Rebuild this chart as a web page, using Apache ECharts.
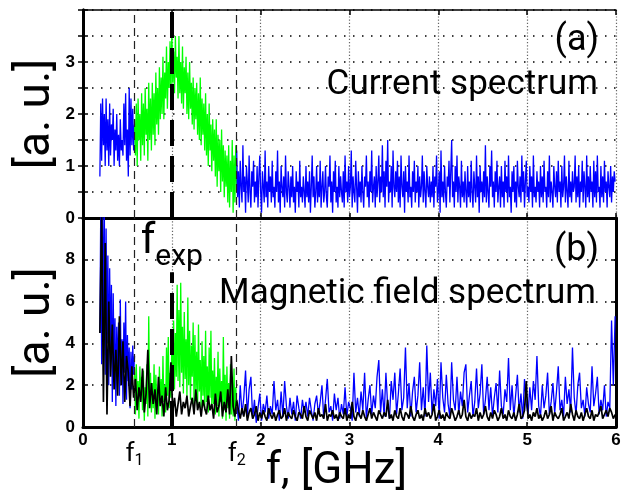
<!DOCTYPE html>
<html>
<head>
<meta charset="utf-8">
<script src="https://cdn.jsdelivr.net/npm/echarts@6/dist/echarts.min.js"></script>
<style>
  html, body { margin: 0; padding: 0; background: #fff; }
  #chart { width: 631px; height: 497px; }
</style>
</head>
<body>
<div id="chart"></div>
<script>
// marker frequencies, GHz
const f1 = 0.58
const fExp = 1.0
const f2 = 1.73

// (a) current spectrum
// blue below f1: 0.19 .. 0.58, step 0.01
const curBlueLow = [0.8, 2.2, 1.1, 2.3, 1.4, 2.0, 1.0, 2.3, 1.3, 1.9, 1.0, 2.2, 1.2, 1.8, 1.5, 2.1, 1.0, 1.7, 1.3, 2.0,
  1.1, 1.6, 1.0, 1.9, 1.3, 1.5, 1.2, 2.2, 1.4, 2.4, 1.1, 1.7, 0.8, 2.5, 1.2, 2.3, 1.4, 2.1, 1.3, 1.8]
// green between f1 and f2: 0.58 .. 1.73, step 0.01
const curGreen = [1.9, 1.2, 2.2, 1.0, 2.3, 1.5, 2.0, 1.1, 2.4, 1.4,
  2.2, 1.2, 2.5, 1.6, 2.1, 1.1, 2.6, 1.5, 2.3, 1.3,
  2.6, 1.6, 2.4, 1.4, 2.8, 1.8, 2.5, 1.6, 2.9, 1.9,
  2.7, 2.0, 3.1, 1.9, 2.8, 2.3, 3.3, 2.1, 3.0, 2.5,
  3.4, 2.3, 3.6, 2.6, 3.2, 2.4, 3.5, 2.7, 3.1, 2.3,
  3.5, 2.4, 3.0, 2.2, 3.3, 2.1, 2.9, 2.4, 3.1, 2.0,
  2.8, 1.9, 3.0, 2.1, 2.6, 1.8, 2.7, 1.7, 2.5, 1.9,
  2.6, 1.6, 2.4, 1.5, 2.7, 1.4, 2.3, 1.6, 2.2, 1.3,
  2.4, 1.2, 2.0, 1.0, 2.2, 1.3, 1.8, 0.9, 1.9, 1.1,
  1.7, 0.8, 1.9, 0.6, 1.6, 0.9, 1.5, 0.5, 1.7, 0.7,
  1.4, 0.4, 1.3, 0.6, 1.2, 0.3, 1.4, 0.2, 1.1, 0.5,
  1.5, 0.1, 1.2, 0.3, 1.4, 0.6]
// blue above f2: 1.73 .. 5.99, step 0.01
const curBlueHigh = [
  1.3, 0.4, 0.9, 0.2, 1.1, 0.6, 0.3, 1.4, 0.5, 0.8, 0.1, 1.0, 0.7, 0.3, 1.2, 0.5, 0.2, 0.9, 0.6, 1.1,
  0.3, 0.7, 0.4, 1.0, 0.2, 0.8, 1.2, 0.5, 0.1, 0.9, 0.6, 0.3, 1.3, 0.4, 0.7, 0.2, 1.0, 0.5, 0.8, 0.3,
  1.1, 0.4, 0.6, 0.2, 0.9, 0.5, 1.3, 0.3, 0.7, 0.1, 1.0, 0.6, 0.4, 0.8, 0.2, 1.2, 0.5, 0.3, 0.9, 0.6,
  0.2, 0.8, 0.4, 1.0, 0.3, 0.6, 0.1, 0.9, 0.5, 0.7, 0.2, 1.1, 0.4, 0.6, 0.3, 0.8, 0.5, 0.2, 1.0, 0.4,
  0.7, 0.3, 0.9, 0.1, 0.6, 1.2, 0.4, 0.8, 0.2, 0.5, 1.0, 0.3, 0.7, 0.4, 1.1, 0.2, 0.6, 0.9, 0.3, 0.5,
  1.0, 0.4, 0.2, 0.8, 0.6, 1.2, 0.3, 0.7, 0.1, 0.9, 0.5, 1.1, 0.3, 0.6, 0.2, 1.0, 0.4, 0.8, 0.5, 0.3,
  0.9, 0.2, 1.2, 0.5, 0.7, 0.3, 1.0, 0.4, 0.6, 1.3, 0.2, 0.8, 0.5, 0.3, 1.1, 0.6, 0.1, 0.9, 0.4, 0.7,
  0.3, 1.0, 0.5, 0.2, 0.8, 0.6, 1.2, 0.4, 0.7, 0.2, 0.9, 0.5, 1.3, 0.3, 0.6, 0.8, 0.2, 1.0, 0.4, 0.7,
  1.2, 0.3, 0.8, 0.5, 1.4, 0.4, 0.9, 0.2, 1.1, 0.6, 1.5, 0.3, 0.7, 0.5, 1.0, 0.2, 1.3, 0.6, 0.4, 0.9,
  0.5, 1.1, 0.3, 0.8, 0.2, 1.2, 0.6, 0.4, 0.9, 0.1, 1.0, 0.5, 0.7, 0.3, 1.2, 0.4, 0.6, 0.2, 0.9, 0.5,
  1.1, 0.3, 0.7, 0.5, 1.0, 0.2, 0.8, 0.4, 0.6, 1.2, 0.3, 0.9, 0.5, 0.2, 1.0, 0.6, 0.4, 0.8, 0.3, 0.7,
  0.4, 1.0, 0.2, 0.8, 0.6, 1.2, 0.3, 0.5, 0.9, 0.1, 1.3, 0.4, 0.7, 0.3, 1.0, 0.5, 0.2, 0.8, 0.6, 1.1,
  0.3, 0.9, 1.5, 0.4, 0.7, 0.2, 1.0, 0.5, 1.2, 0.3, 0.8, 0.6, 0.2, 1.1, 0.4, 0.7, 0.3, 0.9, 0.5, 0.2,
  1.0, 0.4, 0.7, 0.3, 1.1, 0.5, 0.2, 0.9, 0.6, 0.3, 1.2, 0.4, 0.8, 0.1, 1.0, 0.5, 0.7, 0.3, 0.9, 0.4,
  1.4, 0.3, 0.8, 0.5, 0.2, 1.0, 0.6, 1.3, 0.4, 0.7, 0.2, 0.9, 0.5, 1.1, 0.3, 0.6, 0.8, 0.2, 1.0, 0.4,
  0.7, 0.2, 1.1, 0.5, 0.8, 0.3, 1.2, 0.4, 0.6, 0.1, 0.9, 0.5, 1.0, 0.3, 0.7, 0.2, 1.1, 0.6, 0.4, 0.8,
  0.3, 1.2, 0.5, 0.9, 0.2, 0.7, 1.1, 0.4, 0.6, 0.3, 1.0, 0.5, 0.8, 0.2, 1.2, 0.4, 0.6, 0.3, 0.9, 0.5,
  0.7, 0.2, 1.0, 0.4, 0.8, 0.3, 1.1, 0.5, 0.6, 0.2, 0.9, 0.4, 1.2, 0.3, 0.7, 0.5, 0.2, 1.0, 0.6, 0.4,
  0.9, 0.3, 1.1, 0.5, 0.7, 0.2, 1.0, 0.4, 0.6, 1.2, 0.3, 0.8, 0.5, 0.2, 1.1, 0.4, 0.7, 0.3, 0.9, 0.5,
  0.6, 1.2, 0.3, 0.8, 0.4, 1.0, 0.2, 0.7, 0.5, 1.1, 0.3, 0.9, 0.6, 0.2, 1.2, 0.4, 0.8, 0.3, 1.0, 0.5,
  0.7, 0.2, 1.1, 0.4, 0.9, 0.3, 1.2, 0.5, 0.6, 0.2, 1.0, 0.4, 0.8, 0.3, 1.1, 0.5, 0.7, 0.2, 0.9, 0.6,
  0.4, 1.0, 0.3, 0.8, 0.5, 0.9, 0.7]

// (b) magnetic field spectrum
// blue below f1: 0.19 .. 0.58, step 0.01
const magBlueLow = [4.5, 10.5, 3.0, 10.5, 5.0, 10.5, 2.5, 9.5, 4.0, 8.2,
  2.0, 7.6, 3.5, 6.8, 1.2, 6.4, 2.8, 5.2, 1.0, 4.8,
  2.4, 5.0, 1.5, 6.1, 2.0, 4.2, 1.1, 5.0, 2.6, 6.0,
  1.3, 4.4, 2.2, 3.8, 0.9, 3.6, 1.8, 3.9, 2.5, 3.4]
// green between f1 and f2: 0.58 .. 1.73, step 0.01
const magGreen = [2.8, 0.6, 3.0, 1.2, 2.2, 0.4, 2.9, 1.5, 2.4, 0.8,
  2.7, 0.3, 1.9, 1.1, 3.0, 0.5, 5.3, 1.4, 2.6, 0.7,
  2.1, 0.9, 3.0, 0.4, 2.5, 1.3, 1.8, 0.6, 2.9, 1.0,
  2.3, 0.5, 3.4, 1.2, 2.0, 0.7, 3.8, 1.5, 4.3, 0.9,
  2.6, 1.4, 3.9, 2.0, 5.1, 1.8, 4.5, 2.4, 6.8, 2.2,
  5.6, 1.9, 6.9, 2.6, 4.8, 1.6, 5.5, 2.3, 4.2, 1.5,
  6.2, 2.0, 4.6, 1.3, 3.9, 2.4, 5.0, 1.1, 4.4, 1.8,
  3.6, 1.0, 4.9, 1.7, 3.2, 0.9, 4.1, 1.5, 3.4, 0.8,
  4.6, 1.2, 2.9, 0.7, 3.8, 1.4, 4.6, 0.9, 2.7, 1.1,
  3.3, 0.6, 2.4, 1.0, 3.6, 0.5, 2.8, 1.2, 2.2, 0.4,
  4.3, 0.8, 2.5, 0.3, 2.9, 0.9, 2.1, 0.4, 3.0, 0.6,
  2.4, 0.5, 2.8, 0.3, 1.9, 0.7]
// blue above f2: 1.73 .. 5.99, step 0.02
const magBlueHigh = [1.2, 0.3, 2.0, 0.6, 1.4, 2.7, 0.5, 1.8, 2.4, 0.4,
  1.3, 0.2, 0.9, 1.6, 0.3, 1.1, 0.7, 1.5, 0.4, 1.0,
  0.6, 2.2, 0.8, 1.3, 0.3, 1.7, 0.5, 2.2, 1.0, 0.4,
  1.4, 0.6, 1.2, 0.3, 1.5, 0.9, 0.4, 1.3, 0.7, 1.2,
  0.5, 1.4, 0.8, 0.3, 1.1, 1.5, 0.6, 1.2, 2.0, 0.4,
  1.3, 2.3, 0.7, 1.0, 0.3, 1.6, 0.8, 1.4, 0.4, 1.1,
  0.6, 1.9, 0.5, 1.2, 0.9, 0.3, 2.6, 0.7, 1.4, 0.5,
  1.7, 0.8, 2.6, 0.4, 1.3, 2.0, 0.6, 1.5, 0.9, 2.4,
  3.2, 0.7, 1.8, 0.5, 2.6, 1.0, 0.4, 2.2, 1.3, 2.6,
  0.6, 1.6, 2.8, 0.8, 1.4, 3.8, 0.9, 2.1, 0.5, 1.7,
  2.4, 0.7, 1.5, 3.1, 0.8, 1.9, 0.5, 3.9, 1.2, 2.6,
  0.6, 1.8, 1.0, 2.3, 0.4, 3.1, 1.4, 0.7, 2.5, 1.1,
  0.5, 3.1, 1.3, 0.8, 2.4, 0.6, 1.7, 1.0, 2.6, 3.0,
  0.7, 1.5, 2.2, 0.5, 1.2, 2.8, 0.9, 1.6, 3.0, 0.6,
  1.3, 2.4, 0.8, 1.9, 0.5, 1.4, 2.1, 0.7, 2.7, 1.0,
  0.6, 1.8, 1.2, 3.3, 0.8, 2.0, 0.5, 1.5, 2.5, 0.7,
  1.6, 0.4, 2.3, 1.1, 0.6, 1.9, 0.8, 2.2, 1.3, 3.4,
  1.0, 0.5, 2.0, 0.9, 1.5, 2.6, 0.6, 1.2, 2.1, 0.7,
  1.7, 2.9, 0.8, 1.3, 0.5, 2.4, 1.1, 1.8, 0.7, 3.8,
  1.4, 0.6, 2.0, 2.6, 0.9, 1.3, 0.5, 1.9, 1.1, 0.7,
  2.9, 1.0, 1.6, 2.4, 0.6, 1.3, 0.8, 2.0, 0.5, 1.2,
  0.9, 5.1, 2.0, 5.3]
// black, whole range: 0.19 .. 5.99, step 0.02
const magBlack = [4.5, 10.5, 1.2, 8.8, 0.6, 6.0, 2.4, 4.9, 1.8, 3.7,
  1.5, 5.3, 2.0, 4.1, 1.2, 3.4, 2.6, 1.0, 2.9, 1.4,
  2.3, 0.8, 1.9, 1.2, 2.8, 0.7, 1.6, 3.7, 0.9, 2.1,
  1.1, 1.8, 0.6, 2.4, 1.0, 1.5, 0.5, 1.9, 0.8, 1.3,
  3.1, 0.7, 1.4, 0.5, 1.1, 1.7, 0.6, 1.2, 0.9, 1.5,
  0.5, 1.0, 1.4, 0.6, 1.8, 0.8, 1.2, 0.5, 1.3, 0.9,
  0.6, 1.5, 0.8, 1.1, 0.4, 1.6, 0.7, 1.0, 1.7, 0.5,
  1.2, 0.7, 1.8, 0.6, 3.4, 1.0, 0.5, 1.3, 0.8, 0.4,
  0.9, 0.5, 1.1, 0.3, 0.7, 0.9, 0.4, 0.6, 1.0, 0.3,
  0.7, 0.4, 0.8, 0.5, 0.3, 0.9, 0.6, 0.4, 0.7, 0.3,
  0.6, 0.8, 0.4, 0.5, 0.9, 0.3, 0.7, 0.5, 0.4, 0.8,
  0.5, 0.3, 0.7, 0.6, 0.4, 1.0, 0.5, 0.3, 0.8, 0.6,
  0.4, 0.7, 0.3, 0.9, 0.5, 0.6, 0.4, 1.1, 0.3, 0.6,
  0.5, 0.8, 0.4, 0.6, 0.3, 0.7, 0.5, 0.4, 0.9, 0.3,
  0.6, 0.4, 1.2, 0.5, 0.3, 0.7, 0.6, 0.4, 0.8, 0.5,
  0.3, 0.6, 0.9, 0.4, 0.7, 0.5, 0.3, 0.8, 0.6, 0.4,
  0.7, 0.5, 1.3, 0.4, 0.6, 0.3, 0.8, 0.5, 0.4, 0.9,
  0.5, 0.3, 0.7, 0.6, 0.4, 1.0, 0.5, 0.3, 0.6, 0.8,
  0.4, 0.6, 0.3, 0.9, 0.5, 0.7, 0.4, 0.6, 1.1, 0.3,
  0.5, 0.8, 0.4, 0.6, 0.3, 0.7, 0.5, 0.4, 0.9, 0.6,
  0.3, 0.5, 0.8, 0.4, 0.6, 1.3, 0.5, 0.3, 0.7, 0.4,
  0.6, 0.5, 0.9, 0.3, 0.7, 0.4, 0.6, 1.0, 0.5, 0.3,
  0.7, 0.4, 0.8, 0.6, 0.3, 0.5, 0.9, 0.4, 0.6, 0.3,
  0.8, 0.5, 0.4, 0.7, 0.3, 0.6, 1.1, 0.4, 0.5, 0.8,
  2.2, 0.4, 0.6, 0.3, 0.7, 0.5, 0.9, 0.4, 0.6, 0.3,
  0.5, 0.8, 0.4, 0.6, 1.0, 0.3, 0.7, 0.5, 0.4, 0.6,
  0.9, 0.3, 0.5, 0.7, 0.4, 1.1, 0.6, 0.3, 0.8, 0.5,
  0.4, 0.7, 0.3, 0.6, 0.9, 0.5, 0.4, 0.8, 0.3, 0.6,
  0.5, 0.7, 1.0, 0.4, 0.6, 0.8, 0.5, 0.9, 0.7, 0.4,
  0.6]

const BLUE = '#0000ff'
const GREEN = '#00ff00'
const TXT = 'Roboto, "DejaVu Sans", sans-serif'
const TICK = '"Liberation Sans", Arial, sans-serif'

// sample grid -> [f, value]
const pairs = (start, step, vals) => vals.map((v, i) => [+(start + i * step).toFixed(2), v])

const chart = echarts.init(document.getElementById('chart'))

const dashed = { color: '#222', width: 1.2, type: [8, 5] }
const thick = { color: '#000', width: 4, type: [26, 10] }

const xCommon = {
  type: 'value', min: 0, max: 6, interval: 1,
  axisLine: { onZero: false, lineStyle: { color: '#000', width: 3 } },
  axisTick: { inside: true, length: 5, lineStyle: { color: '#000', width: 1.5 } },
  splitLine: { show: true, lineStyle: { color: '#666', width: 1.2, type: [1.2, 2] } }
}
const yGrid = { show: true, lineStyle: { color: '#000', width: 1.5, type: [1.5, 7.5] } }

const lineSeries = (name, xi, color, data, width, extra) => Object.assign({
  name, type: 'line', xAxisIndex: xi, yAxisIndex: xi, data,
  showSymbol: false, symbol: 'none', clip: true,
  lineStyle: { color, width }, itemStyle: { color }
}, extra || {})

const subLabel = (sub, big, small, drop) => ({
  formatter: '{f|f}{s|' + sub + '}',
  rich: {
    f: { fontFamily: TXT, fontSize: big, color: '#000' },
    s: { fontFamily: TXT, fontSize: small, color: '#000', padding: [drop, 0, 0, 0] }
  }
})

const option = {
  animation: false,
  backgroundColor: '#fff',
  grid: [
    { left: 83, right: 15, top: 10, height: 208, outerBoundsMode: 'none' },
    { left: 83, right: 15, top: 218, height: 209, outerBoundsMode: 'none' }
  ],
  title: [
    { text: '(a)', right: 27, top: 18, textStyle: { fontFamily: TXT, fontSize: 36, fontWeight: 'normal', color: '#000' } },
    { text: 'Current spectrum', right: 28, top: 63, textStyle: { fontFamily: TXT, fontSize: 35, fontWeight: 'normal', color: '#000' } },
    { text: '(b)', right: 27, top: 228, textStyle: { fontFamily: TXT, fontSize: 36, fontWeight: 'normal', color: '#000' } },
    { text: 'Magnetic field spectrum', right: 30, top: 272, textStyle: { fontFamily: TXT, fontSize: 35, fontWeight: 'normal', color: '#000' } }
  ],
  xAxis: [
    Object.assign({}, xCommon, { gridIndex: 0, axisLabel: { show: false } }),
    Object.assign({}, xCommon, {
      gridIndex: 1,
      axisLabel: { color: '#000', fontFamily: TICK, fontWeight: 'bold', fontSize: 17, margin: 5 },
      name: 'f, [GHz]', nameLocation: 'middle', nameGap: 18,
      nameTextStyle: { fontFamily: TXT, fontSize: 44, color: '#000', padding: [0, 26, 0, 0] }
    }),
    Object.assign({}, xCommon, {
      gridIndex: 0, position: 'top', axisLabel: { show: false }, splitLine: { show: false },
      axisLine: { onZero: false, lineStyle: { color: '#000', width: 1.5 } }
    })
  ],
  yAxis: [
    {
      gridIndex: 0, type: 'value', min: 0, max: 4, interval: 0.5,
      axisLine: { show: true, lineStyle: { color: '#000', width: 3 } },
      axisTick: { show: true, inside: true, length: 5, lineStyle: { color: '#000', width: 1.5 } },
      axisLabel: { color: '#000', fontFamily: TICK, fontWeight: 'bold', fontSize: 17, margin: 8,
        formatter: v => (v % 1 === 0 && v < 4) ? String(v) : '' },
      splitLine: yGrid,
      name: '[a. u.]', nameLocation: 'middle', nameRotate: 90, nameGap: 23, nameMoveOverlap: false,
      nameTextStyle: { fontFamily: TXT, fontSize: 46, color: '#000' }
    },
    {
      gridIndex: 1, type: 'value', min: 0, max: 10, interval: 2,
      axisLine: { show: true, lineStyle: { color: '#000', width: 3 } },
      axisTick: { show: true, inside: true, length: 5, lineStyle: { color: '#000', width: 1.5 } },
      axisLabel: { color: '#000', fontFamily: TICK, fontWeight: 'bold', fontSize: 17, margin: 8,
        formatter: v => v < 10 ? String(v) : '' },
      splitLine: yGrid,
      name: '[a. u.]', nameLocation: 'middle', nameRotate: 90, nameGap: 23, nameMoveOverlap: false,
      nameTextStyle: { fontFamily: TXT, fontSize: 46, color: '#000' }
    },
    {
      gridIndex: 0, type: 'value', min: 0, max: 4, interval: 0.5, position: 'right',
      axisLine: { show: true, lineStyle: { color: '#000', width: 3 } },
      axisTick: { show: true, inside: true, length: 5, lineStyle: { color: '#000', width: 1.5 } },
      axisLabel: { show: false }, splitLine: { show: false }
    },
    {
      gridIndex: 1, type: 'value', min: 0, max: 10, interval: 2, position: 'right',
      axisLine: { show: true, lineStyle: { color: '#000', width: 3 } },
      axisTick: { show: true, inside: true, length: 5, lineStyle: { color: '#000', width: 1.5 } },
      axisLabel: { show: false }, splitLine: { show: false }
    }
  ],
  series: [
    lineSeries('current low', 0, BLUE, pairs(0.19, 0.01, curBlueLow), 1.3),
    lineSeries('current band', 0, GREEN, pairs(0.58, 0.01, curGreen), 1.3),
    lineSeries('current high', 0, BLUE, pairs(1.73, 0.01, curBlueHigh), 1.3, {
      markLine: {
        silent: true, symbol: 'none', label: { show: false },
        data: [
          { xAxis: f1, lineStyle: dashed },
          { xAxis: f2, lineStyle: dashed },
          { xAxis: fExp, lineStyle: thick }
        ]
      }
    }),
    lineSeries('field low', 1, BLUE, pairs(0.19, 0.01, magBlueLow), 1.3),
    lineSeries('field band', 1, GREEN, pairs(0.58, 0.01, magGreen), 1.3),
    lineSeries('field high', 1, BLUE, pairs(1.73, 0.02, magBlueHigh), 1.3),
    lineSeries('field ref', 1, '#000', pairs(0.19, 0.02, magBlack), 1.7, {
      markLine: {
        silent: true, symbol: 'none',
        data: [
          { xAxis: f1, lineStyle: dashed,
            label: Object.assign({ show: true, position: 'start', distance: 12 }, subLabel('1', 26, 16, 14)) },
          { xAxis: f2, lineStyle: dashed,
            label: Object.assign({ show: true, position: 'start', distance: 12 }, subLabel('2', 26, 16, 14)) },
          [
            { coord: [fExp, 0], lineStyle: thick },
            { coord: [fExp, 7.4],
              label: Object.assign({ show: true, position: 'end', distance: 0 }, subLabel('exp', 42, 30, 30)) }
          ]
        ]
      }
    })
  ]
}

chart.setOption(option)
window.addEventListener('resize', () => chart.resize())
</script>
</body>
</html>
